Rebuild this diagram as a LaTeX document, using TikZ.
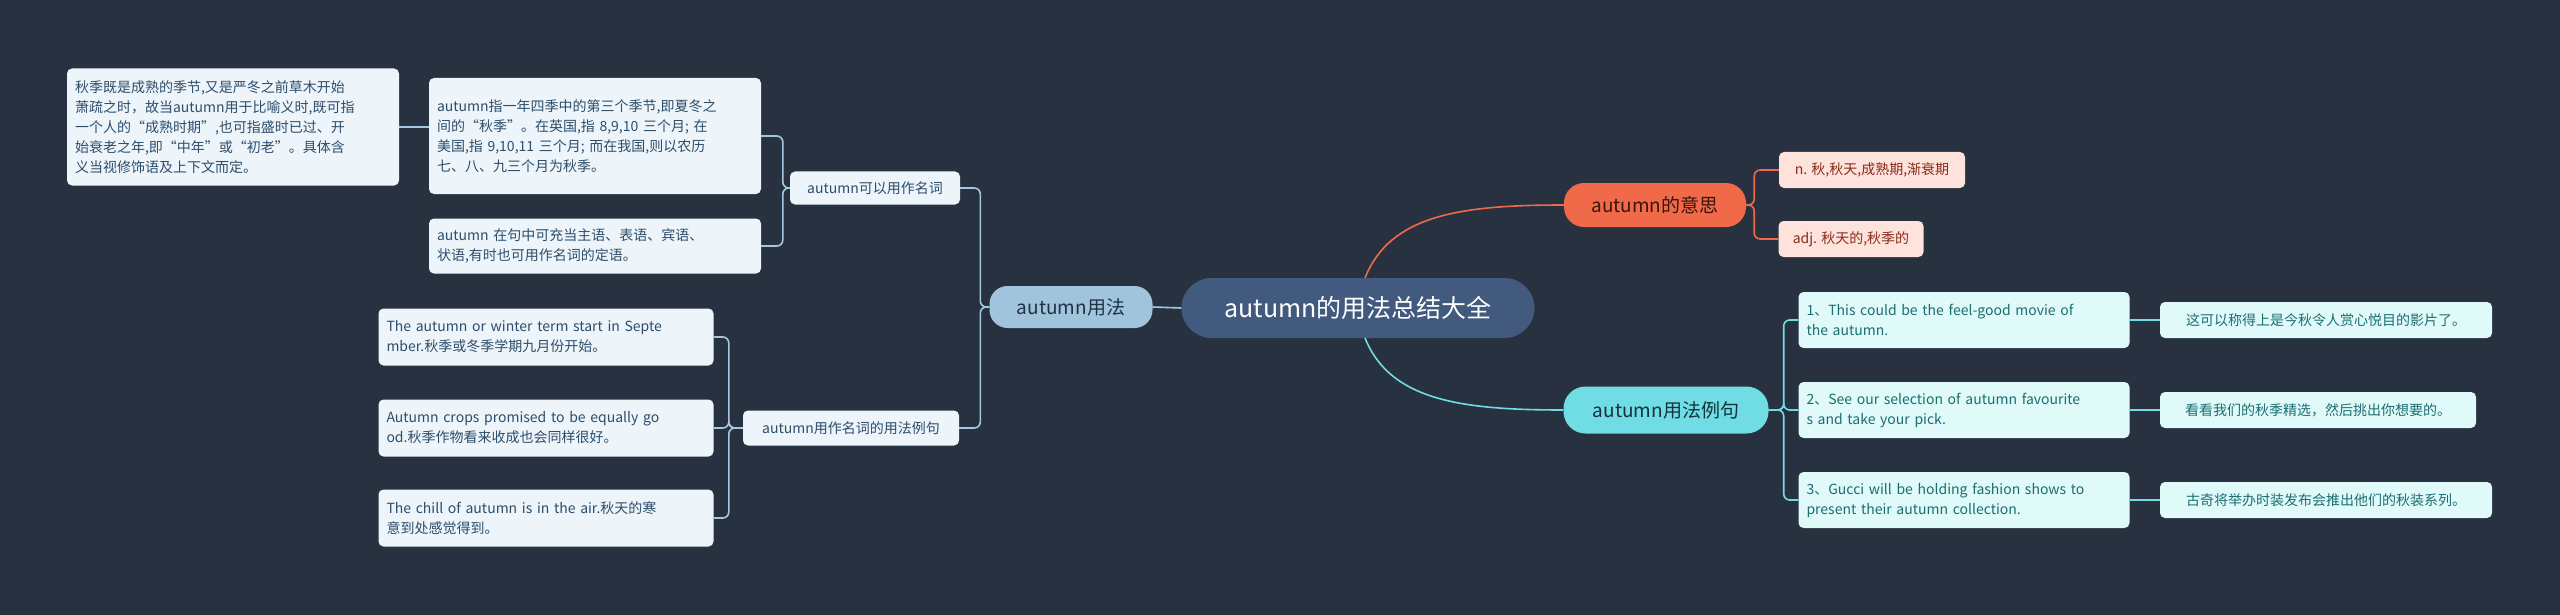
\documentclass[tikz,border=0pt]{standalone}
\usepackage{fontspec}
\setmainfont{Noto Sans CJK SC}
\begin{document}
\begin{tikzpicture}[x=1pt,y=-1pt,
 box/.style={rounded corners=5pt,inner sep=0pt,align=left,font=\fontsize{14}{20}\selectfont},
 lb/.style={box,fill=leafb,text=leaft},
 ob/.style={box,fill=leafo,text=leafot},
 cb/.style={box,fill=leafc,text=leafct},
 bl/.style={draw=lineb,line width=1.6pt,rounded corners=6pt},
 ol/.style={draw=lineo,line width=1.6pt,rounded corners=6pt},
 cl/.style={draw=linec,line width=1.6pt,rounded corners=6pt}]
\definecolor{bg}{HTML}{283140}
\definecolor{leafb}{HTML}{EDF5FA}\definecolor{leaft}{HTML}{2D4D6B}
\definecolor{lineb}{HTML}{A5C8E0}
\definecolor{leafo}{HTML}{FDE3DC}\definecolor{leafot}{HTML}{8B2A1A}
\definecolor{lineo}{HTML}{F06A4A}
\definecolor{leafc}{HTML}{E0FAFA}\definecolor{leafct}{HTML}{1A6E70}
\definecolor{linec}{HTML}{6FDDE3}
\fill[bg] (0,0) rectangle (2560,615);
\useasboundingbox (0,0) rectangle (2560,615);
% root
\node[rounded corners=30pt,fill={rgb,255:red,65;green,90;blue,126},text=white,minimum width=353pt,minimum height=60pt,inner sep=0pt,font=\fontsize{25}{30}\selectfont] (root) at (1358,308) {autumn的用法总结大全};
\node[rounded corners=18pt,fill={rgb,255:red,160;green,196;blue,220},text={rgb,255:red,30;green,50;blue,70},minimum width=163pt,minimum height=42pt,inner sep=0pt,font=\fontsize{19}{24}\selectfont] (L) at (1071,307) {autumn用法};
\node[rounded corners=20pt,fill=lineo,text={rgb,255:red,60;green,20;blue,10},minimum width=182pt,minimum height=44pt,inner sep=0pt,font=\fontsize{19}{24}\selectfont] (R1) at (1655,205) {autumn的意思};
\node[rounded corners=22pt,fill=linec,text={rgb,255:red,20;green,50;blue,60},minimum width=205pt,minimum height=47pt,inner sep=0pt,font=\fontsize{19}{24}\selectfont] (R2) at (1666,410) {autumn用法例句};
% left leaves
\node[lb,minimum width=332pt,minimum height=117pt,text width=316pt] (a1) at (233,127) {秋季既是成熟的季节,又是严冬之前草木开始\\萧疏之时，故当autumn用于比喻义时,既可指\\一个人的“成熟时期”,也可指盛时已过、开\\始衰老之年,即“中年”或“初老”。具体含\\义当视修饰语及上下文而定。};
\node[lb,minimum width=332pt,minimum height=116pt,text width=316pt] (a2) at (595,136) {autumn指一年四季中的第三个季节,即夏冬之\\间的“秋季”。在英国,指 8,9,10 三个月; 在\\美国,指 9,10,11 三个月; 而在我国,则以农历\\七、八、九三个月为秋季。};
\node[lb,minimum width=332pt,minimum height=55pt,text width=316pt] (a3) at (595,246) {autumn 在句中可充当主语、表语、宾语、\\状语,有时也可用作名词的定语。};
\node[lb,minimum width=170pt,minimum height=33pt,align=center] (b1) at (875,188) {autumn可以用作名词};
\node[lb,minimum width=216pt,minimum height=35pt,align=center] (b2) at (851,428) {autumn用作名词的用法例句};
\node[lb,minimum width=335pt,minimum height=57pt,text width=319pt] (c1) at (546,337) {The autumn or winter term start in Septe\\mber.秋季或冬季学期九月份开始。};
\node[lb,minimum width=335pt,minimum height=57pt,text width=319pt] (c2) at (546,428) {Autumn crops promised to be equally go\\od.秋季作物看来收成也会同样很好。};
\node[lb,minimum width=335pt,minimum height=57pt,text width=319pt] (c3) at (546,518) {The chill of autumn is in the air.秋天的寒\\意到处感觉得到。};
% right leaves
\node[ob,minimum width=186pt,minimum height=36pt,align=center] (n) at (1872,170) {n. 秋,秋天,成熟期,渐衰期};
\node[ob,minimum width=145pt,minimum height=36pt,align=center] (adj) at (1851,239) {adj. 秋天的,秋季的};
\node[cb,minimum width=331pt,minimum height=56pt,text width=315pt] (e1) at (1964,320) {1、This could be the feel-good movie of\\the autumn.};
\node[cb,minimum width=331pt,minimum height=56pt,text width=315pt] (e2) at (1964,410) {2、See our selection of autumn favourite\\s and take your pick.};
\node[cb,minimum width=331pt,minimum height=56pt,text width=315pt] (e3) at (1964,500) {3、Gucci will be holding fashion shows to\\ present their autumn collection.};
\node[cb,minimum width=332pt,minimum height=36pt,align=center] (t1) at (2326,320) {这可以称得上是今秋令人赏心悦目的影片了。};
\node[cb,minimum width=316pt,minimum height=36pt,align=center] (t2) at (2318,410) {看看我们的秋季精选，然后挑出你想要的。};
\node[cb,minimum width=332pt,minimum height=36pt,align=center] (t3) at (2326,500) {古奇将举办时装发布会推出他们的秋装系列。};
% connectors
\draw[bl] (root.west) -- (L.east);
\draw[bl] (L.west) -- ++(-9,0) |- (b1.east);
\draw[bl] (L.west) -- ++(-9,0) |- (b2.east);
\draw[bl] (b1.west) -- ++(-7,0) |- (a2.east);
\draw[bl] (b1.west) -- ++(-7,0) |- (a3.east);
\draw[bl] (a2.west |- a1.east) -- (a1.east);
\draw[bl] (b2.west) -- ++(-14,0) |- (c1.east);
\draw[bl] (b2.west) -- ++(-14,0) |- (c2.east);
\draw[bl] (b2.west) -- ++(-14,0) |- (c3.east);
\draw[lineo,line width=1.6pt] (1365,278) .. controls (1390,215) and (1460,205) .. (R1.west);
\draw[linec,line width=1.6pt] (1365,338) .. controls (1390,400) and (1460,410) .. (R2.west);
\draw[ol] (R1.east) -- ++(8,0) |- (n.west);
\draw[ol] (R1.east) -- ++(8,0) |- (adj.west);
\draw[cl] (R2.east) -- ++(15,0) |- (e1.west);
\draw[cl] (R2.east) -- ++(15,0) |- (e2.west);
\draw[cl] (R2.east) -- ++(15,0) |- (e3.west);
\draw[cl] (e1.east) -- (t1.west);
\draw[cl] (e2.east) -- (t2.west);
\draw[cl] (e3.east) -- (t3.west);
\end{tikzpicture}
\end{document}
